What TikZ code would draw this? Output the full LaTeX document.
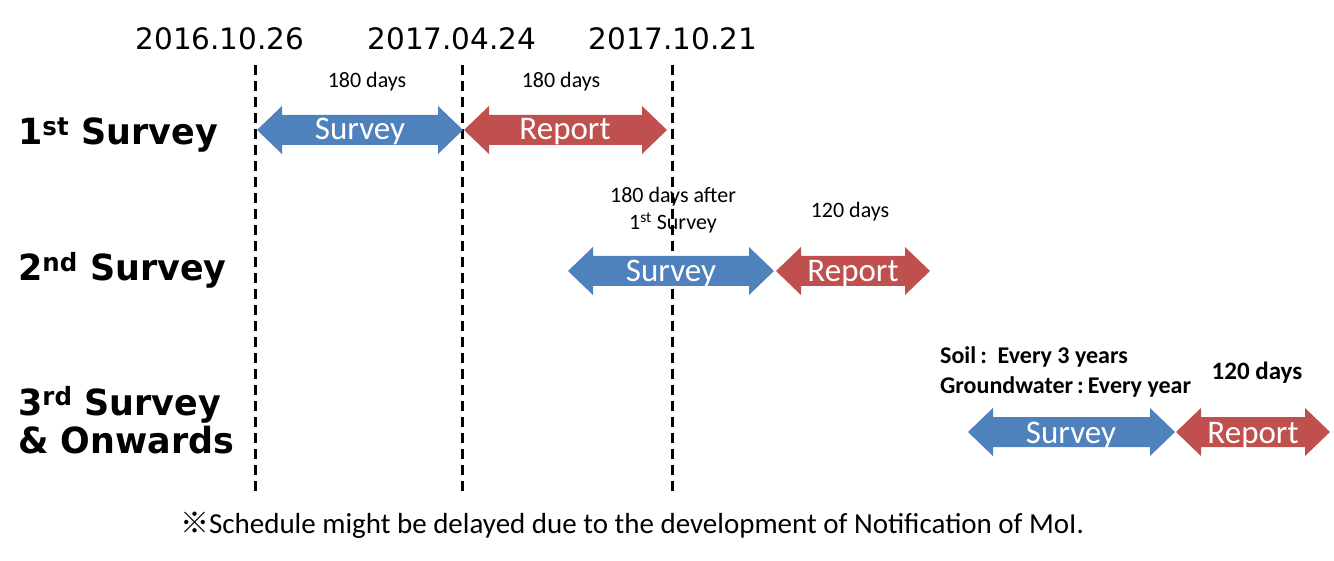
\documentclass[tikz,border=0pt]{standalone}
\usepackage{fontspec}
\setmainfont{Carlito}
\newfontfamily\headfont[FakeStretch=0.97]{DejaVu Sans}
\newfontfamily\datefont{DejaVu Sans}
\newfontfamily\cjk{Noto Sans CJK JP}
\definecolor{arblue}{HTML}{4F81BD}
\definecolor{arred}{HTML}{C0504D}
\newcommand\dbarrow[4]{%
 \fill[#4] (#1,#3) -- ({#1+25},{#3-24}) -- ({#1+25},{#3-15}) -- ({#2-25},{#3-15}) -- ({#2-25},{#3-24}) -- (#2,#3) -- ({#2-25},{#3+24}) -- ({#2-25},{#3+15}) -- ({#1+25},{#3+15}) -- ({#1+25},{#3+24}) -- cycle;}
\tikzset{
  dline/.style={line width=3pt, dash pattern=on 10pt off 6pt},
  lbl/.style={inner sep=0pt, anchor=base},
  head/.style={inner sep=0pt, anchor=base west, font=\headfont\bfseries\fontsize{36}{40}\selectfont, align=left},
  date/.style={lbl, font=\datefont\fontsize{29.5}{32}\selectfont},
  days/.style={lbl, font=\fontsize{22}{26}\selectfont, align=center},
  bdays/.style={lbl, font=\bfseries\fontsize{24}{28}\selectfont},
  arrtxt/.style={lbl, text=white, font=\fontsize{33}{36}\selectfont},
}
\begin{document}
\begin{tikzpicture}[x=1pt,y=-1pt]
\fill[white] (0,0) rectangle (1334,561);
\useasboundingbox (0,0) rectangle (1334,561);
% dashed lines
\coordinate (d1t) at (255,65); \coordinate (d1b) at (255,497);
\coordinate (d2t) at (462,65); \coordinate (d2b) at (462,497);
\coordinate (d3t) at (672,65); \coordinate (d3b) at (672,497);
\draw[dline] (d1t) -- (d1b);
\draw[dline] (d2t) -- (d2b);
\draw[dline] (d3t) -- (d3b);
% dates
\node[date] (t1) at (220,50) {2016.10.26};
\node[date] (t2) at (452,50) {2017.04.24};
\node[date] (t3) at (673,50) {2017.10.21};
% row labels
\node[head] (r1) at (18,145) {1\textsuperscript{st} Survey};
\node[head] (r2) at (18,281) {2\textsuperscript{nd} Survey};
\node[head] (r3) at (18,415) {3\textsuperscript{rd} Survey};
\node[head] (r3b) at (18,453) {\& Onwards};
% row 1
\dbarrow{257}{463}{130}{arblue}
\dbarrow{464}{667}{130}{arred}
\node[arrtxt] (s1) at (360,140) {Survey};
\node[arrtxt] (p1) at (565,140) {Report};
\node[days] (a1) at (367,88) {180 days};
\node[days] (a2) at (561,88) {180 days};
% row 2
\dbarrow{568}{774}{271}{arblue}
\dbarrow{776}{930}{271}{arred}
\node[arrtxt] (s2) at (671,282) {Survey};
\node[arrtxt] (p2) at (853,282) {Report};
\node[days] (a3) at (673,203) {180 days after};
\node[days] (a4) at (673,230) {1\textsuperscript{st} Survey};
\node[days] (a5) at (850,218) {120 days};
% row 3
\dbarrow{968}{1175}{432}{arblue}
\dbarrow{1176}{1330}{432}{arred}
\node[arrtxt] (s3) at (1071,443) {Survey};
\node[arrtxt] (p3) at (1253,443) {Report};
\node[bdays, anchor=base west] (b1) at (940,363) {Soil\,:\ \ Every 3 years};
\node[bdays, anchor=base west] (b2) at (940,393) {Groundwater\,:\,Every year};
\node[bdays, font=\bfseries\fontsize{25}{28}\selectfont] (b3) at (1257,380) {120 days};
% footnote
\node[lbl, font=\fontsize{29}{32}\selectfont] (fn) at (632,533) {{\cjk ※}Schedule might be delayed due to the development of Notification of MoI.};
\end{tikzpicture}
\end{document}
